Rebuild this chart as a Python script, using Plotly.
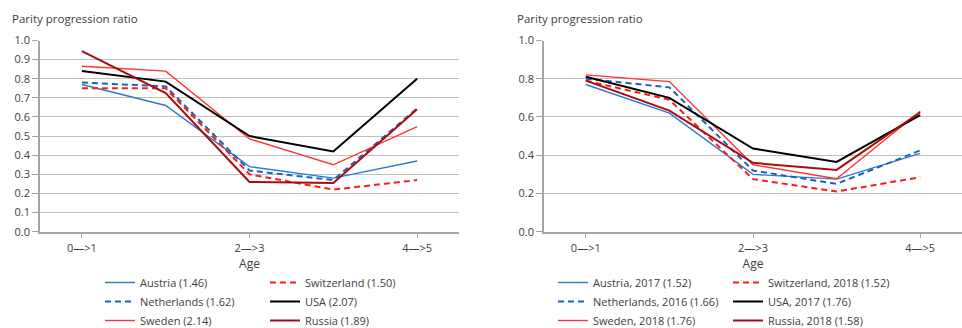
import plotly.graph_objects as go

# Transition categories on the x axis (only every second one is labelled)
ages = ["0—>1", "1—>2", "2—>3", "3—>4", "4—>5"]
age_ticks = ["0—>1", "2—>3", "4—>5"]

# Left panel: cohort values
austria = [0.77, 0.66, 0.34, 0.28, 0.37]
switzerland = [0.75, 0.75, 0.30, 0.22, 0.27]
netherlands = [0.78, 0.76, 0.32, 0.27, 0.645]
usa = [0.84, 0.785, 0.50, 0.42, 0.80]
sweden = [0.865, 0.84, 0.485, 0.35, 0.55]
russia = [0.945, 0.725, 0.26, 0.255, 0.64]

# Right panel: period values
austria_p = [0.77, 0.62, 0.30, 0.275, 0.41]
switzerland_p = [0.79, 0.69, 0.275, 0.21, 0.285]
netherlands_p = [0.80, 0.755, 0.32, 0.25, 0.425]
usa_p = [0.81, 0.70, 0.435, 0.365, 0.61]
sweden_p = [0.82, 0.785, 0.35, 0.277, 0.63]
russia_p = [0.79, 0.633, 0.36, 0.323, 0.625]

left_names = ["Austria (1.46)", "Switzerland (1.50)", "Netherlands (1.62)",
              "USA (2.07)", "Sweden (2.14)", "Russia (1.89)"]
right_names = ["Austria, 2017 (1.52)", "Switzerland, 2018 (1.52)", "Netherlands, 2016 (1.66)",
               "USA, 2017 (1.76)", "Sweden, 2018 (1.76)", "Russia, 2018 (1.58)"]

styles = [
    dict(color="#2F78CF", width=1.4, dash="solid"),
    dict(color="#FF1A1A", width=2.0, dash="6px,4px"),
    dict(color="#1565C0", width=2.0, dash="6px,4px"),
    dict(color="#000000", width=2.0, dash="solid"),
    dict(color="#FF3333", width=1.4, dash="solid"),
    dict(color="#A80D0D", width=2.0, dash="solid"),
]
# column 1 of each legend: Austria, Netherlands, Sweden; column 2: Switzerland, USA, Russia
legend_col = [0, 1, 0, 1, 0, 1]
order = [0, 2, 4, 1, 3, 5]

fig = go.Figure()
left_series = [austria, switzerland, netherlands, usa, sweden, russia]
right_series = [austria_p, switzerland_p, netherlands_p, usa_p, sweden_p, russia_p]

for i in order:
    fig.add_trace(go.Scatter(
        x=ages, y=left_series[i], mode="lines", name=left_names[i],
        line=styles[i], xaxis="x", yaxis="y",
        legend="legend" if legend_col[i] == 0 else "legend2"))
for i in order:
    fig.add_trace(go.Scatter(
        x=ages, y=right_series[i], mode="lines", name=right_names[i],
        line=styles[i], xaxis="x2", yaxis="y2",
        legend="legend3" if legend_col[i] == 0 else "legend4"))

W, H = 962, 328
font = dict(family="Open Sans, Noto Sans, sans-serif", size=11, color="#404040")

def px(xp):
    return xp / W

def py(yp):
    return 1 - yp / H

xaxis_common = dict(
    type="category", categoryorder="array", categoryarray=ages,
    range=[-0.5, 4.5], tickmode="array", tickvals=age_ticks, ticktext=age_ticks,
    ticks="outside", ticklen=5, tickcolor="#A6A6A6", showgrid=False,
    showline=True, linecolor="#A6A6A6", linewidth=1.5, zeroline=False,
    tickfont=dict(size=11, color="#404040"),
    title=dict(text="Age", font=dict(size=12, color="#404040"), standoff=3),
)
yaxis_common = dict(
    range=[0, 1.0], showgrid=True, gridcolor="#BFBFBF", gridwidth=1.3,
    showline=True, linecolor="#A6A6A6", linewidth=1.5, zeroline=False,
    ticks="outside", ticklen=6, tickcolor="#A6A6A6",
    tickfont=dict(size=11, color="#404040"),
)

legend_common = dict(
    orientation="v", xanchor="left", yanchor="top", bgcolor="rgba(0,0,0,0)",
    font=dict(size=11, color="#404040"), tracegroupgap=0, borderwidth=0,
)

fig.update_layout(
    width=W, height=H, margin=dict(l=0, r=0, t=0, b=0, autoexpand=False),
    paper_bgcolor="white", plot_bgcolor="white", font=font,
    xaxis=dict(xaxis_common, domain=[px(40), px(459)], anchor="y"),
    yaxis=dict(yaxis_common, domain=[py(231.7), py(40.5)], dtick=0.1,
               tickformat=".1f", anchor="x"),
    xaxis2=dict(xaxis_common, domain=[px(544), 1.0], anchor="y2"),
    yaxis2=dict(yaxis_common, domain=[py(231.7), py(40.5)], dtick=0.2,
                tickformat=".1f", anchor="x2"),
    legend=dict(legend_common, x=px(100), y=py(268)),
    legend2=dict(legend_common, x=px(265), y=py(268)),
    legend3=dict(legend_common, x=px(553), y=py(268)),
    legend4=dict(legend_common, x=px(728), y=py(268)),
    annotations=[
        dict(text="Parity progression ratio", xref="paper", yref="paper",
             x=px(10), y=py(18), xanchor="left", yanchor="middle",
             showarrow=False, font=dict(size=11.5, color="#404040")),
        dict(text="Parity progression ratio", xref="paper", yref="paper",
             x=px(515), y=py(18), xanchor="left", yanchor="middle",
             showarrow=False, font=dict(size=11.5, color="#404040")),
    ],
)

fig.write_html("out.html")
